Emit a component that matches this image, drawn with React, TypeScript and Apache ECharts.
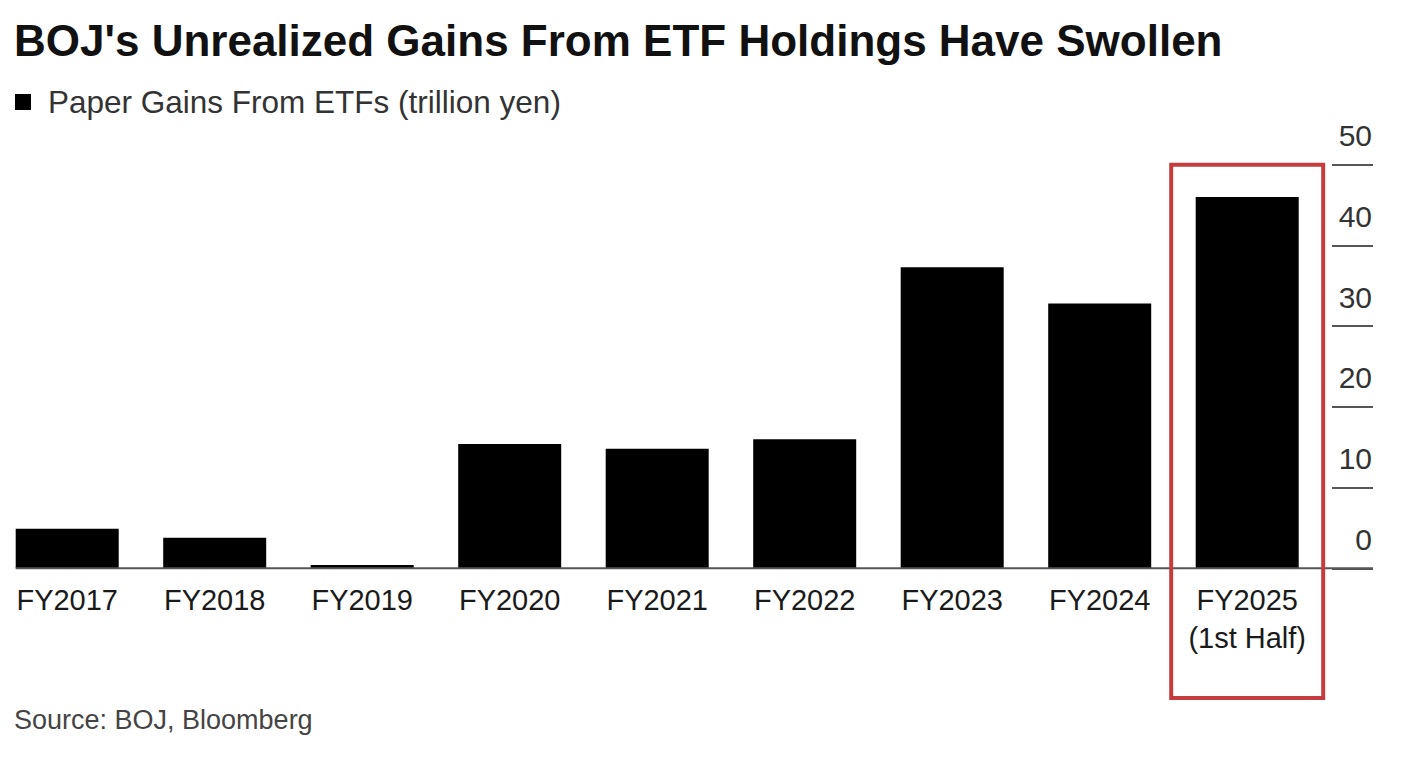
import React, { useEffect, useRef } from "react";
import * as echarts from "echarts";

const categories = ["FY2017", "FY2018", "FY2019", "FY2020", "FY2021", "FY2022", "FY2023", "FY2024", "FY2025\n(1st Half)"];
const paperGains = [4.9, 3.8, 0.4, 15.4, 14.8, 16.0, 37.3, 32.8, 46.0];
const yTicks = [0, 10, 20, 30, 40, 50];
const titleText = "BOJ's Unrealized Gains From ETF Holdings Have Swollen";
const seriesName = "Paper Gains From ETFs (trillion yen)";
const sourceText = "Source: BOJ, Bloomberg";
const highlightIndex = 8;

const FONT = "Liberation Sans, Arial, Helvetica, sans-serif";

export default function App() {
  const ref = useRef<HTMLDivElement>(null);
  useEffect(() => {
    if (!ref.current) return;
    const chart = echarts.init(ref.current, null, { renderer: "svg" });
    const gridLeft = 67.2;
    const gridRight = 1402 - 1247.2;
    const axisX = 1332;
    const yOffset = axisX - (1402 - gridRight);
    const tickLen = 41;
    const barWidth = 103;
    chart.setOption({
      animation: false,
      backgroundColor: "#ffffff",
      textStyle: { fontFamily: FONT },
      title: {
        text: titleText,
        left: 9,
        top: 13,
        textStyle: { fontFamily: FONT, fontSize: 44, fontWeight: "bold", color: "#111111" },
      },
      legend: {
        left: 10,
        top: 81,
        icon: "rect",
        itemWidth: 16,
        itemHeight: 16,
        itemGap: 10,
        textStyle: { fontFamily: FONT, fontSize: 31.5, color: "#333333", padding: [0, 0, 0, 12] },
        data: [seriesName],
      },
      grid: { left: gridLeft, right: gridRight, top: 164.8, bottom: 191.7, containLabel: false },
      xAxis: {
        type: "category",
        data: categories,
        boundaryGap: false,
        axisLine: { show: false },
        axisTick: { show: false },
        axisLabel: {
          margin: 13,
          fontFamily: FONT,
          fontSize: 29,
          color: "#1a1a1a",
          lineHeight: 38,
          interval: 0,
        },
      },
      yAxis: {
        type: "value",
        position: "right",
        offset: yOffset,
        min: 0,
        max: 50,
        interval: 10,
        splitLine: { show: false },
        axisLine: { show: false },
        axisTick: { show: true, length: tickLen, lineStyle: { color: "#555555", width: 2 } },
        axisLabel: {
          fontFamily: FONT,
          fontSize: 30,
          color: "#333333",
          align: "right",
          margin: 40,
          verticalAlign: "bottom",
          padding: [0, 0, 14, 0],
          formatter: (v: number) => (yTicks.includes(v) ? String(v) : ""),
        },
      },
      series: [
        {
          name: seriesName,
          type: "bar",
          data: paperGains,
          barWidth: barWidth,
          clip: false,
          itemStyle: { color: "#000000" },
        },
      ],
    });

    const x0 = chart.convertToPixel({ xAxisIndex: 0 }, 0) as number;
    const xH = chart.convertToPixel({ xAxisIndex: 0 }, highlightIndex) as number;
    const y0 = chart.convertToPixel({ yAxisIndex: 0 }, 0) as number;
    const y50 = chart.convertToPixel({ yAxisIndex: 0 }, 50) as number;
    const rightEnd = axisX + tickLen;

    chart.setOption({
      graphic: [
        {
          type: "line",
          shape: { x1: x0 - barWidth / 2, y1: y0, x2: rightEnd, y2: y0 },
          style: { stroke: "#555555", lineWidth: 2 },
          z: 10,
        },
        {
          type: "rect",
          shape: { x: xH - 76, y: y50, width: 152, height: 698 - y50 },
          style: { fill: "none", stroke: "#c43c3e", lineWidth: 4 },
          z: 10,
        },
        {
          type: "text",
          left: 14,
          top: 706,
          style: { text: sourceText, fontFamily: FONT, fontSize: 27, fill: "#444444" },
        },
      ],
    });

    return () => chart.dispose();
  }, []);
  return (
    <div
      ref={ref}
      style={{ position: "fixed", left: 0, top: 0, width: 1402, height: 760, background: "#fff" }}
    />
  );
}
